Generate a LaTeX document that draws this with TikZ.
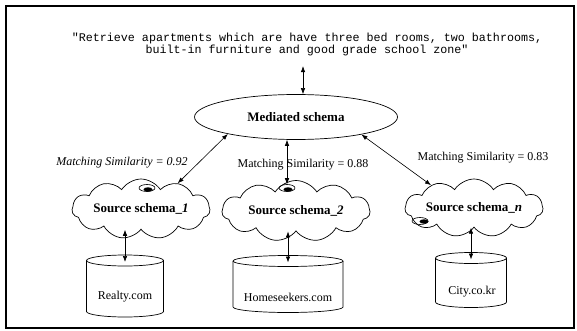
\documentclass[tikz,border=0pt]{standalone}
\usepackage{fontspec}
\setmainfont{Liberation Serif}
\newfontfamily\qfont{Liberation Mono}
\usetikzlibrary{shapes.geometric,shapes.symbols,arrows.meta}
\newcommand{\dbdraw}[3]{%
  \draw[line width=0.7pt] ([yshift=-#3]#1.north) ellipse [x radius=#2, y radius=#3];
  \draw[line width=0.7pt] ([yshift=-#3]#1.north west) -- ([yshift=#3]#1.south west)
    arc[start angle=180, end angle=360, x radius=#2, y radius=#3] -- ([yshift=-#3]#1.north east);}
\begin{document}
\begin{tikzpicture}[x=1pt,y=-1pt,
  conn/.style={{Latex[length=6pt,width=4.5pt]}-{Latex[length=6pt,width=4.5pt]}, line width=0.6pt},
  lbl/.style={font=\fontsize{12}{14}\selectfont, inner sep=0pt},
  cl/.style={cloud, draw, line width=0.7pt, cloud puffs=11, cloud puff arc=115, cloud ignores aspect, inner sep=0pt, font=\fontsize{13}{15}\selectfont\bfseries},
  db/.style={rectangle, inner sep=0pt, outer sep=0pt},
  blobo/.style={ellipse, draw, line width=0.6pt, minimum width=16pt, minimum height=7pt, inner sep=0pt},
  blobi/.style={ellipse, fill=black, minimum width=9pt, minimum height=4.5pt, inner sep=0pt}
]
\useasboundingbox (0,0) rectangle (577,331);
\draw[line width=1.2pt] (6,6) rectangle (574,328);

\node[inner sep=0pt, align=center, font=\qfont\fontsize{11.7}{12}\selectfont] (q) at (307,44)
  {"Retrieve apartments which are have three bed rooms, two bathrooms,\\built-in furniture and good grade school zone"};

\node[ellipse, draw, line width=0.7pt, minimum width=203pt, minimum height=45pt, inner sep=0pt,
  font=\fontsize{13}{15}\selectfont\bfseries] (ms) at (296,117) {Mediated schema};

\node[cl, minimum width=138pt, minimum height=60pt] (c1) at (141,209) {Source schema\_\textit{1}};
\node[cl, minimum width=148pt, minimum height=61pt] (c2) at (296,211) {Source schema\_\textit{2}};
\node[cl, minimum width=138pt, minimum height=58pt] (c3) at (474,208) {Source schema\_\textit{n}};

\node[blobo] (b1) at (147,188) {};
\node[blobi] (b1f) at (148,189.5) {};
\node[blobo] (b2) at (287,188) {};
\node[blobi] (b2f) at (288,189.5) {};
\node[blobo] (b3) at (420,221) {};
\node[blobi] (b3f) at (424,221.5) {};

\node[db, minimum width=77pt, minimum height=62pt] (d1) at (125,286) {};
\node[db, minimum width=110pt, minimum height=57pt] (d2) at (288,284) {};
\node[db, minimum width=71pt, minimum height=55pt] (d3) at (471,280) {};
\dbdraw{d1}{38.5pt}{5.5pt}
\dbdraw{d2}{55pt}{5.5pt}
\dbdraw{d3}{35.5pt}{5.5pt}

\node[lbl] (t1) at (125,297) {Realty.com};
\node[lbl] (t2) at (288,297) {Homeseekers.com};
\node[lbl] (t3) at (472,292) {City.co.kr};

\node[lbl, font=\fontsize{12}{14}\selectfont\itshape] (m1) at (122,163) {Matching Similarity = 0.92};
\node[lbl] (m2) at (303,165) {Matching Similarity = 0.88};
\node[lbl] (m3) at (483,158) {Matching Similarity = 0.83};

\draw[conn] ([xshift=7pt]ms.north) -- ([xshift=7pt,yshift=28pt]ms.north);
\draw[conn] (ms.194) -- (c1.35);
\draw[conn] (ms.south -| b2) -- (b2.north);
\draw[conn] (ms.345) -- (c3.152);
\draw[conn] (c1.south -| d1.north) -- ([yshift=-7pt]d1.north);
\draw[conn] (c2.south -| d2.north) -- ([yshift=-7pt]d2.north);
\draw[conn] (c3.south -| d3.north) -- ([yshift=-7pt]d3.north);
\end{tikzpicture}
\end{document}
